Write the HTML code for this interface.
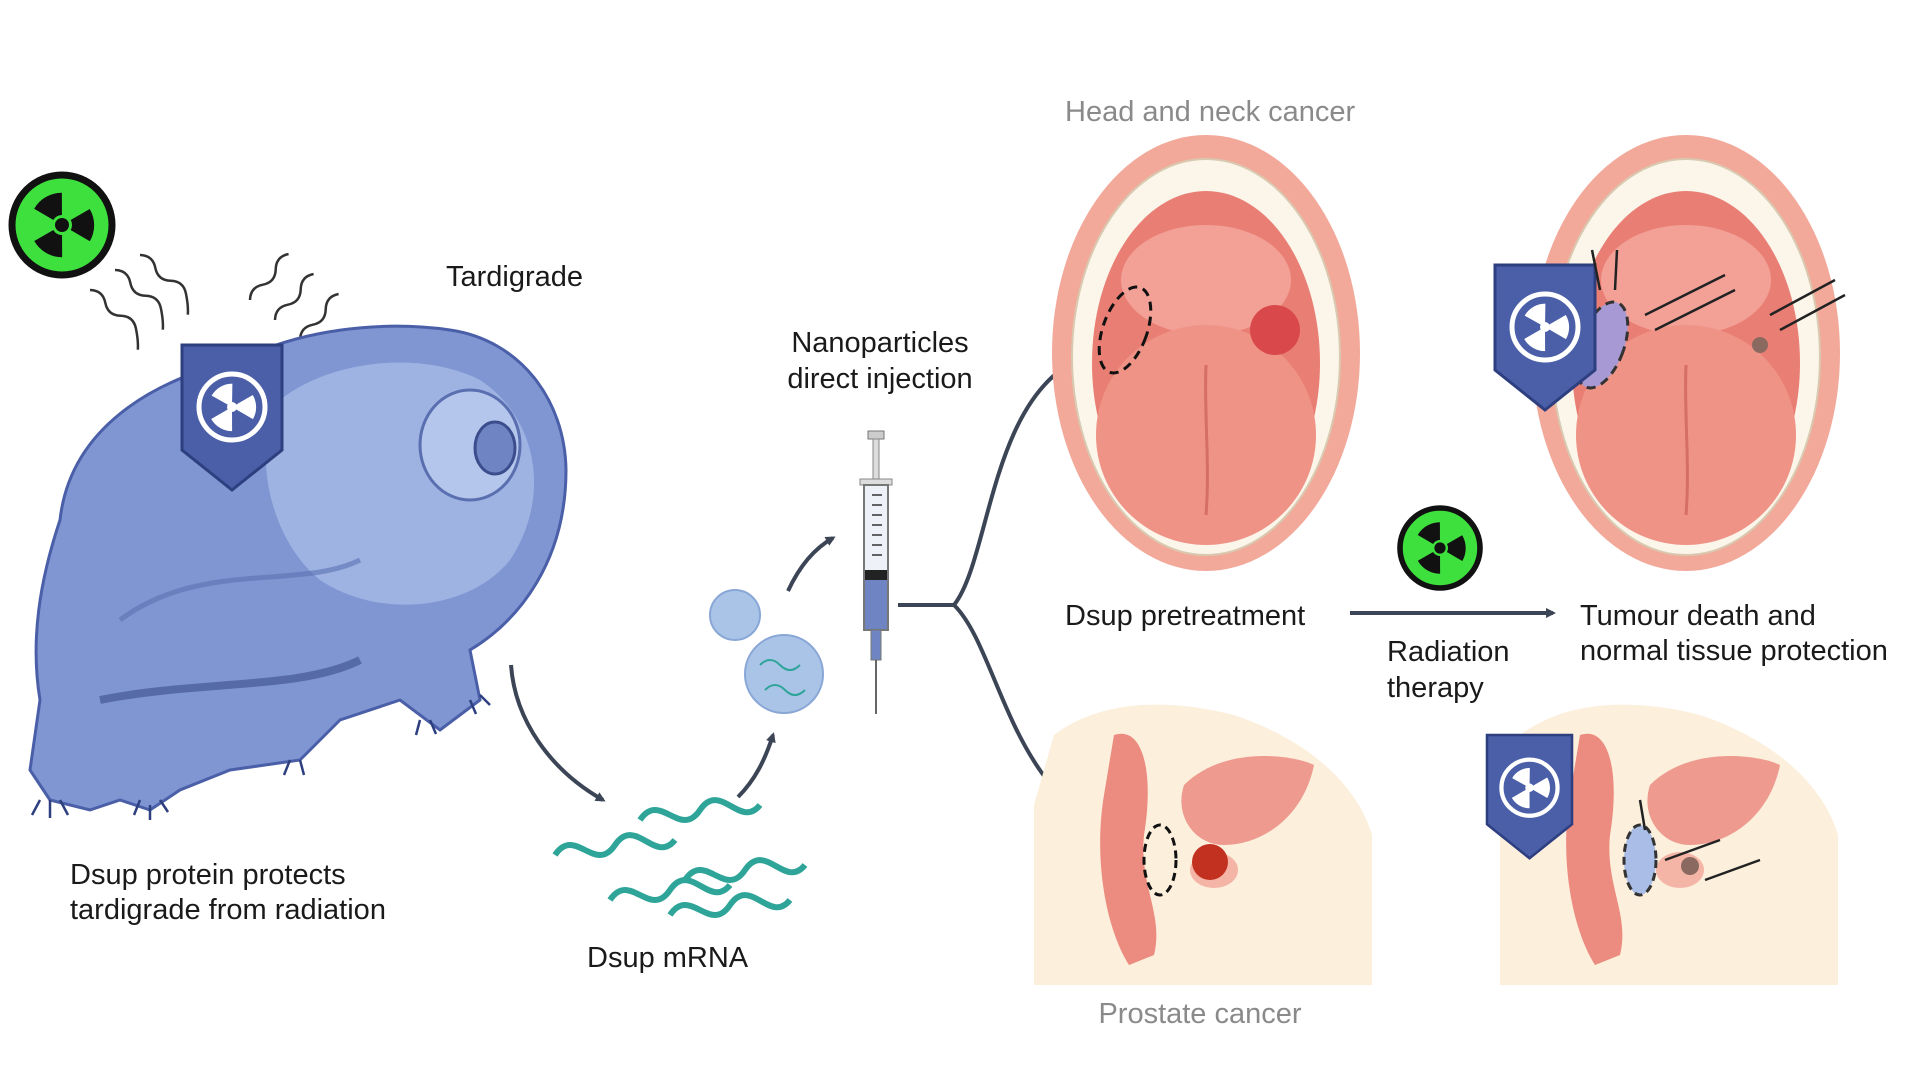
<!DOCTYPE html>
<html><head><meta charset="utf-8"><style>
html,body{margin:0;padding:0;background:#fff;width:1920px;height:1080px;overflow:hidden}
svg{display:block}
text{font-family:"Liberation Sans",sans-serif;font-size:29px;fill:#1a1a1a}
.g{fill:#8a8a8a}
</style></head><body>
<svg width="1920" height="1080" viewBox="0 0 1920 1080">
<defs>
<marker id="ah" markerWidth="10" markerHeight="10" refX="7" refY="5" orient="auto" markerUnits="userSpaceOnUse"><path d="M0,0 L10,5 L0,10 z" fill="#3b4555"/></marker>
<g id="rad">
<circle r="50" fill="#3ee03e" stroke="#111" stroke-width="7"/>
<circle r="7" fill="#111"/>
<path d="M0,0 L-16,-28 A32,32 0 0 1 16,-28 Z M0,0 L32,0 A32,32 0 0 1 16,28 Z M0,0 L-16,28 A32,32 0 0 1 -32,0 Z" fill="#111" transform="rotate(-30)"/>
<circle r="10" fill="#3ee03e"/><circle r="7" fill="#111"/>
</g>
<g id="shield">
<path d="M0,0 L100,0 L100,105 L50,145 L0,105 Z" fill="#4a5fa8" stroke="#2e3f80" stroke-width="3"/>
<circle cx="50" cy="62" r="33" fill="none" stroke="#fff" stroke-width="5"/>
<circle cx="50" cy="62" r="5" fill="#fff"/>
<path d="M50,62 L38,42 A24,24 0 0 1 62,42 Z M50,62 L74,62 A24,24 0 0 1 62,83 Z M50,62 L38,83 A24,24 0 0 1 26,62 Z" fill="#fff" transform="rotate(-30 50 62)"/>
</g>
<g id="mouth">
<ellipse cx="154" cy="218" rx="154" ry="218" fill="#f2a99a"/>
<ellipse cx="154" cy="222" rx="134" ry="198" fill="#fbf5ea" stroke="#d9c9b0" stroke-width="2"/>
<ellipse cx="154" cy="228" rx="114" ry="172" fill="#e97f74"/>
<ellipse cx="154" cy="145" rx="85" ry="55" fill="#f3a097"/>
<ellipse cx="154" cy="300" rx="110" ry="110" fill="#f09387"/>
<path d="M154,230 C152,280 158,330 154,380" stroke="#d46e66" stroke-width="3" fill="none"/>
</g>
<g id="prost">
<path d="M20,40 C60,10 120,0 200,20 C260,40 320,80 338,140 L338,290 L0,290 L0,110 Z" fill="#fcefdc"/>
<path d="M80,40 C110,30 120,80 110,140 C105,190 130,220 120,260 L95,270 C70,230 60,160 70,100 Z" fill="#ec8b80"/>
<path d="M150,90 C190,50 260,60 280,70 C270,120 230,150 190,150 C160,150 140,120 150,90 Z" fill="#ee9a8e"/>
<ellipse cx="180" cy="175" rx="24" ry="18" fill="#f4b4a6"/>
</g>
<g id="strand">
<path d="M0,20 C20,-10 40,40 60,10 C80,-20 100,30 120,5" stroke="#2fa59a" stroke-width="6" fill="none"/>
</g>
</defs>

<use href="#rad" x="62" y="225"/>
<g stroke="#333" stroke-width="2.5" fill="none">
<path d="M90,290 q10,-8 20,0 t20,0 t20,0 t15,15" transform="rotate(40 90 290)"/>
<path d="M115,270 q10,-8 20,0 t20,0 t20,0 t15,15" transform="rotate(40 115 270)"/>
<path d="M140,255 q10,-8 20,0 t20,0 t20,0 t15,15" transform="rotate(40 140 255)"/>
<path d="M250,300 q10,-8 20,0 t20,0 t20,0" transform="rotate(-50 250 300)"/>
<path d="M275,320 q10,-8 20,0 t20,0 t20,0" transform="rotate(-50 275 320)"/>
<path d="M300,340 q10,-8 20,0 t20,0 t20,0" transform="rotate(-50 300 340)"/>
</g>
<!-- tardigrade -->
<path d="M60,520 C70,430 150,380 240,360 C300,330 380,320 450,330 C520,340 565,400 566,470 C566,560 520,620 470,650 L480,700 L440,730 L400,700 L340,720 L300,760 L230,770 L180,790 L150,810 L120,800 L90,810 L50,800 L30,770 L40,700 C30,640 40,580 60,520 Z" fill="#7f96d3" stroke="#4a5fa8" stroke-width="3"/>
<path d="M280,400 C330,360 420,350 480,380 C540,420 550,500 510,560 C470,610 380,620 320,580 C270,540 250,450 280,400 Z" fill="#9fb3e3"/>
<ellipse cx="470" cy="445" rx="50" ry="55" fill="#b5c6ec" stroke="#5a6fb0" stroke-width="3"/>
<ellipse cx="495" cy="448" rx="20" ry="26" fill="#6f84c2" stroke="#3b4d8c" stroke-width="3"/>
<path d="M100,700 C200,680 300,690 360,660" stroke="#3b4d8c" stroke-width="8" fill="none" opacity=".6"/>
<path d="M120,620 C200,560 300,590 360,560" stroke="#5a6fb0" stroke-width="5" fill="none" opacity=".6"/>
<g stroke="#2e3f80" stroke-width="2.5" fill="none">
<path d="M40,800 l-8,15 M50,800 l0,18 M60,800 l8,15 M140,800 l-6,15 M150,805 l0,15 M160,800 l8,12 M290,760 l-6,15 M300,760 l4,15 M420,720 l-4,15 M430,720 l6,14 M470,700 l6,14 M480,695 l10,10"/>
</g>
<use href="#shield" x="182" y="345"/>

<text x="446" y="286">Tardigrade</text>
<text x="70" y="884">Dsup protein protects</text>
<text x="70" y="919">tardigrade from radiation</text>

<g stroke="#3b4555" stroke-width="4" fill="none" marker-end="url(#ah)">
<path d="M511,665 C515,720 550,770 603,800"/>
<path d="M738,797 C755,780 765,760 773,735"/>
<path d="M788,591 C800,565 815,548 833,538"/>
<path d="M1350,613 L1553,613"/>
<path d="M954,605 C990,560 990,400 1079,359"/>
<path d="M954,605 C1000,650 1010,800 1126,837"/>
</g>
<path d="M898,605 L954,605" stroke="#3b4555" stroke-width="4"/>

<use href="#strand" x="555" y="835"/>
<use href="#strand" x="640" y="800"/>
<use href="#strand" x="685" y="860"/>
<use href="#strand" x="610" y="880"/>
<use href="#strand" x="670" y="895"/>
<text x="587" y="967">Dsup mRNA</text>

<circle cx="735" cy="615" r="25" fill="#aac4e8" stroke="#88a6d6" stroke-width="2"/>
<circle cx="784" cy="674" r="39" fill="#aac4e8" stroke="#88a6d6" stroke-width="2"/>
<path d="M760,665 q10,-10 20,0 t20,0" stroke="#2fa59a" stroke-width="2" fill="none"/>
<path d="M765,690 q10,-10 20,0 t20,0" stroke="#2fa59a" stroke-width="2" fill="none"/>

<rect x="868" y="431" width="16" height="8" fill="#ccc" stroke="#777"/>
<rect x="873" y="439" width="6" height="40" fill="#ddd" stroke="#888"/>
<rect x="860" y="479" width="32" height="6" fill="#ddd" stroke="#888"/>
<rect x="864" y="485" width="24" height="145" fill="#eef2f8" stroke="#777" stroke-width="2"/>
<rect x="865" y="575" width="22" height="54" fill="#6f84c2"/>
<rect x="865" y="570" width="22" height="10" fill="#222"/>
<g stroke="#333" stroke-width="1.5"><path d="M872,495h10M872,505h10M872,515h10M872,525h10M872,535h10M872,545h10M872,555h10"/></g>
<rect x="871" y="630" width="10" height="30" fill="#6f84c2" stroke="#777"/>
<line x1="876" y1="660" x2="876" y2="714" stroke="#666" stroke-width="2"/>
<text x="880" y="352" text-anchor="middle">Nanoparticles</text>
<text x="880" y="388" text-anchor="middle">direct injection</text>

<text x="1065" y="121" class="g">Head and neck cancer</text>
<use href="#mouth" x="1052" y="135"/>
<ellipse cx="1125" cy="330" rx="22" ry="45" fill="none" stroke="#111" stroke-width="3" stroke-dasharray="9 6" transform="rotate(20 1125 330)"/>
<circle cx="1275" cy="330" r="25" fill="#d9484a"/>
<use href="#mouth" x="1532" y="135"/>
<ellipse cx="1602" cy="345" rx="22" ry="45" fill="#a79ad4" stroke="#333" stroke-width="3" stroke-dasharray="9 6" transform="rotate(20 1602 345)"/>
<circle cx="1760" cy="345" r="8" fill="#8a6a60"/>
<use href="#shield" x="1495" y="265"/>
<g stroke="#222" stroke-width="2.5" fill="none">
<path d="M1725,275 l-80,40 M1735,290 l-80,40 M1845,295 l-65,35 M1835,280 l-65,35 M1600,290 l-8,-40 M1615,290 l2,-40"/>
</g>

<text x="1065" y="625">Dsup pretreatment</text>
<g transform="translate(1440 548) scale(0.8)"><use href="#rad"/></g>
<text x="1387" y="661">Radiation</text>
<text x="1387" y="697">therapy</text>
<text x="1580" y="625">Tumour death and</text>
<text x="1580" y="660">normal tissue protection</text>

<use href="#prost" x="1034" y="695"/>
<ellipse cx="1160" cy="860" rx="16" ry="35" fill="none" stroke="#111" stroke-width="3" stroke-dasharray="8 5"/>
<circle cx="1210" cy="862" r="18" fill="#c2301f"/>
<use href="#prost" x="1500" y="695"/>
<ellipse cx="1640" cy="860" rx="16" ry="35" fill="#a9bde6" stroke="#333" stroke-width="3" stroke-dasharray="8 5"/>
<circle cx="1690" cy="866" r="9" fill="#8a6a60"/>
<g transform="translate(1487 735) scale(0.85)"><use href="#shield"/></g>
<g stroke="#222" stroke-width="2.5" fill="none"><path d="M1720,840 l-55,20 M1760,860 l-55,20 M1645,830 l-5,-30"/></g>
<text x="1200" y="1023" text-anchor="middle" class="g">Prostate cancer</text>
</svg>
</body></html>
